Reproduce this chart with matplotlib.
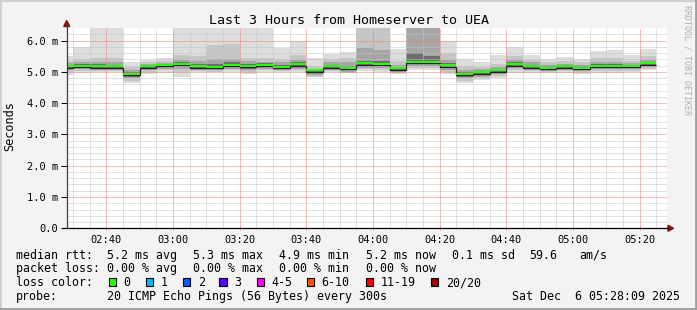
import numpy as np
import matplotlib
matplotlib.use('Agg')
import matplotlib.pyplot as plt
from matplotlib.patches import Polygon, Rectangle
from matplotlib.lines import Line2D

plt.rcParams['font.family'] = ['DejaVu Sans Mono']

W, H = 697, 310

# 5 minute bins (bin end time in minutes after midnight), window 02:28:09 - 05:28:09
bin_start = 145        # 02:25, first bin is cut by the window
bin_step = 5
t_from, t_to = 148.15, 328.15

# median rtt per bin (ms)
median = [5.17, 5.19, 5.17, 5.17, 4.93, 5.17, 5.22, 5.26, 5.18, 5.16, 5.22, 5.19,
          5.22, 5.16, 5.24, 5.04, 5.18, 5.12, 5.27, 5.26, 5.11, 5.32, 5.32, 5.20,
          4.93, 4.99, 5.05, 5.24, 5.17, 5.13, 5.17, 5.13, 5.19, 5.19, 5.19, 5.27]

# smoke bands, outer (hi1/lo1) to inner (hi4/lo4), ms
hi1 = [5.50, 5.80, 6.50, 6.50, 5.30, 5.37, 5.43, 6.50, 6.50, 6.50, 6.50, 6.50,
       6.50, 5.77, 6.00, 5.45, 5.57, 5.62, 6.50, 6.50, 5.72, 6.50, 6.50, 6.00,
       5.42, 5.31, 5.55, 5.79, 5.53, 5.42, 5.47, 5.42, 5.68, 5.71, 5.53, 5.72]
hi2 = [5.35, 5.40, 5.45, 5.45, 5.15, 5.30, 5.35, 5.55, 5.50, 5.85, 5.90, 5.45,
       5.45, 5.40, 5.55, 5.20, 5.40, 5.45, 6.50, 6.50, 5.35, 6.50, 6.50, 5.60,
       5.20, 5.15, 5.25, 5.50, 5.38, 5.30, 5.33, 5.30, 5.45, 5.45, 5.35, 5.50]
hi3 = [5.28, 5.30, 5.32, 5.30, 5.05, 5.24, 5.28, 5.38, 5.35, 5.40, 5.40, 5.33,
       5.32, 5.30, 5.38, 5.10, 5.30, 5.30, 5.75, 5.70, 5.22, 6.50, 6.50, 5.38,
       5.05, 5.08, 5.15, 5.38, 5.30, 5.22, 5.25, 5.22, 5.32, 5.32, 5.27, 5.38]
hi4 = [5.22, 5.24, 5.24, 5.22, 4.98, 5.20, 5.25, 5.30, 5.25, 5.25, 5.30, 5.25,
       5.27, 5.22, 5.30, 5.07, 5.23, 5.20, 5.35, 5.35, 5.15, 5.60, 5.50, 5.28,
       4.98, 5.02, 5.10, 5.30, 5.22, 5.17, 5.20, 5.17, 5.24, 5.24, 5.23, 5.32]
lo4 = [5.10, 5.12, 5.10, 5.10, 4.85, 5.10, 5.15, 5.18, 5.12, 5.10, 5.15, 5.10,
       5.15, 5.10, 5.15, 4.95, 5.10, 5.05, 5.18, 5.18, 5.05, 5.25, 5.25, 5.12,
       4.85, 4.90, 4.97, 5.17, 5.10, 5.07, 5.10, 5.07, 5.12, 5.12, 5.12, 5.20]
lo3 = [5.05, 5.08, 5.06, 5.06, 4.80, 5.06, 5.10, 5.10, 5.07, 5.05, 5.10, 5.05,
       5.10, 5.06, 5.10, 4.90, 5.06, 5.00, 5.12, 5.12, 5.00, 5.20, 5.20, 5.06,
       4.80, 4.85, 4.92, 5.12, 5.06, 5.03, 5.06, 5.03, 5.08, 5.08, 5.08, 5.15]
lo2 = [5.00, 5.02, 5.02, 5.02, 4.72, 5.00, 5.05, 5.00, 5.03, 5.00, 5.05, 5.00,
       5.05, 5.02, 5.05, 4.85, 5.02, 4.97, 5.08, 5.05, 4.96, 5.12, 5.12, 5.00,
       4.72, 4.80, 4.87, 5.05, 5.02, 5.00, 5.02, 4.98, 5.03, 5.03, 5.03, 5.10]
lo1 = [4.90, 4.95, 5.00, 5.00, 4.65, 4.93, 4.97, 4.85, 4.98, 4.98, 5.00, 4.93,
       4.98, 4.98, 4.98, 4.82, 4.98, 4.95, 5.03, 4.98, 4.92, 5.05, 5.05, 4.93,
       4.65, 4.73, 4.80, 4.97, 4.97, 4.95, 4.95, 4.93, 4.97, 4.97, 5.00, 5.05]

smoke_colors = ['#dddddd', '#c6c6c6', '#a6a6a6', '#6e6e6e']

x_ticks = [160, 180, 200, 220, 240, 260, 280, 300, 320]
x_labels = ['02:40', '03:00', '03:20', '03:40', '04:00', '04:20', '04:40', '05:00', '05:20']
y_ticks = [0, 1, 2, 3, 4, 5, 6]
y_labels = ['0.0', '1.0 m', '2.0 m', '3.0 m', '4.0 m', '5.0 m', '6.0 m']

loss_names = ['0', '1', '2', '3', '4-5', '6-10', '11-19', '20/20']
loss_colors = ['#26ff00', '#00b8ff', '#0059ff', '#5e00ff', '#ff00ff', '#ff5500', '#ff0000', '#a10000']


def P(x, y):
    return (x / W, 1 - y / H)


fig = plt.figure(figsize=(W / 100, H / 100), dpi=100)
fig.patch.set_facecolor('#f3f3f3')

ax = fig.add_axes([66.7 / W, (H - 228.3) / H, 600 / W, 200 / H])
ax.set_facecolor('white')
ax.set_xlim(t_from, t_to)
ax.set_ylim(0, 6.39)
for s in ax.spines.values():
    s.set_visible(False)

edges = np.arange(len(median) + 1) * bin_step + bin_start

# smoke
for hi, lo, c in zip([hi1, hi2, hi3, hi4], [lo1, lo2, lo3, lo4], smoke_colors):
    ax.stairs(hi, edges, baseline=lo, fill=True, color=c, lw=0, zorder=1)

# grid, 1px dots snapped to pixels
dots = dict(lw=0.72, ls=(0, (1, 1)), zorder=2, snap=True)
for v in np.arange(0.2, 6.39, 0.2):
    if abs(v - round(v)) > 0.01:
        ax.axhline(v, color='#c4c4c4', **dots)
for t in np.arange(150, 329, 5):
    if t % 20 != 0:
        ax.axvline(t, color='#c4c4c4', **dots)
for v in y_ticks[1:]:
    ax.axhline(v, color='#f07a7a', **dots)
for t in x_ticks:
    ax.axvline(t, color='#f07a7a', **dots)

# median: dark line with loss colour band on top
med = np.array(median)
ax.stairs(med - 0.045, edges, baseline=None, color='#202020', lw=0.9, zorder=3)
ax.stairs(med + 0.035, edges, baseline=med - 0.03, fill=True,
          color=loss_colors[0], lw=0, zorder=4)

ax.set_xticks(x_ticks)
ax.set_xticklabels(x_labels)
ax.set_yticks(y_ticks)
ax.set_yticklabels(y_labels)
ax.tick_params(axis='both', labelsize=7.5, color='black', width=0.7)
ax.tick_params(axis='y', length=4, direction='out', pad=2)
ax.tick_params(axis='x', length=2, direction='inout', pad=4)

# axes with arrows
fig.add_artist(Line2D([62.5 / W, 668 / W], [1 - 228.3 / H] * 2, color='black', lw=0.9))
fig.add_artist(Line2D([66.7 / W] * 2, [1 - 228.3 / H, 1 - 24 / H], color='#404040', lw=0.9))
fig.add_artist(Polygon([P(668, 225.3), P(673.5, 228.3), P(668, 231.3)],
                       closed=True, color='#8b1010', transform=fig.transFigure))
fig.add_artist(Polygon([P(63.7, 26.5), P(66.7, 20.5), P(69.7, 26.5)],
                       closed=True, color='#8b1010', transform=fig.transFigure))

# frame
fig.add_artist(Line2D([0, 1], [1 - 0.5 / H] * 2, color='#d0d0d0', lw=1.5))
fig.add_artist(Line2D([0.5 / W] * 2, [0, 1], color='#d0d0d0', lw=1.5))
fig.add_artist(Line2D([0, 1], [1.2 / H] * 2, color='#9e9e9e', lw=2))
fig.add_artist(Line2D([1 - 1.2 / W] * 2, [0, 1], color='#9e9e9e', lw=2))

fig.text(*P(349, 23.9), 'Last 3 Hours from Homeserver to UEA', ha='center',
         va='baseline', fontsize=9.6, color='black')
fig.text(*P(10, 126), 'Seconds', rotation=90, ha='center', va='center', fontsize=8.6)
fig.text(*P(687.5, 60), 'RRDTOOL / TOBI OETIKER', rotation=-90, ha='center',
         va='center', fontsize=6, color='#b0b0b0')

fs = 8.35
rows = [258.7, 272.2, 286.2, 299.7]
line1 = [(16, 'median rtt:'), (107, '5.2 ms avg'), (193, '5.3 ms max'), (279, '4.9 ms min'),
         (365.7, '5.2 ms now'), (452, '0.1 ms sd'), (529.3, '59.6'), (579.3, 'am/s')]
line2 = [(16, 'packet loss:'), (107, '0.00 % avg'), (193, '0.00 % max'),
         (279, '0.00 % min'), (365.7, '0.00 % now')]
for x, s in line1:
    fig.text(*P(x, rows[0]), s, fontsize=fs, va='baseline')
for x, s in line2:
    fig.text(*P(x, rows[1]), s, fontsize=fs, va='baseline')

fig.text(*P(16, rows[2]), 'loss color:', fontsize=fs, va='baseline')
box_x = [108.7, 145.7, 182.7, 219.3, 256.7, 306.7, 365.7, 430.7]
for bx, name, c in zip(box_x, loss_names, loss_colors):
    fig.add_artist(Rectangle(P(bx, 285.7), 7.3 / W, 8 / H, facecolor=c,
                             edgecolor='black', lw=0.8, transform=fig.transFigure))
    fig.text(*P(bx + 15, rows[2]), name, fontsize=fs, va='baseline')

fig.text(*P(16, rows[3]), 'probe:', fontsize=fs, va='baseline')
fig.text(*P(107, rows[3]), '20 ICMP Echo Pings (56 Bytes) every 300s', fontsize=fs, va='baseline')
fig.text(*P(680, rows[3]), 'Sat Dec  6 05:28:09 2025', fontsize=fs, va='baseline', ha='right')

fig.savefig('out.png', dpi=100, facecolor=fig.get_facecolor())
